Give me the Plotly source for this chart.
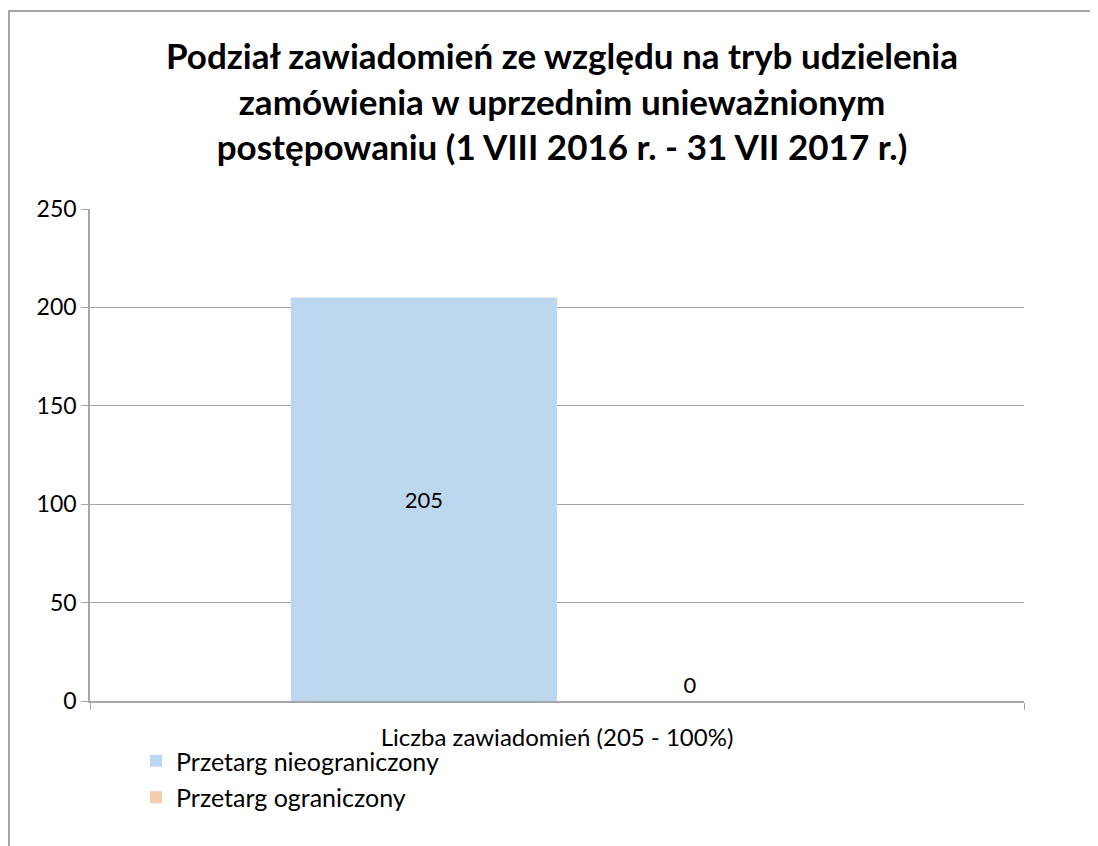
import plotly.graph_objects as go

categories = ["Liczba zawiadomień (205 - 100%)"]
series_names = ["Przetarg nieograniczony", "Przetarg ograniczony"]
values_nieogr = [205]
values_ogr = [0]
colors = ["#BDD7EE", "#F8CBAD"]
y_ticks = [0, 50, 100, 150, 200, 250]

title = ("Podział zawiadomień ze względu na tryb udzielenia<br>"
         "zamówienia w uprzednim unieważnionym<br>"
         "postępowaniu (1 VIII 2016 r. - 31 VII 2017 r.)")

FONT = "Lato"
W, H = 1098, 846
# page body has an 8px margin, so figure coords = screen coords - 8
L, R, T, B = 82, 82, 201, 153

fig = go.Figure()
fig.add_trace(go.Bar(
    x=categories, y=values_nieogr, name=series_names[0],
    marker=dict(color=colors[0], line=dict(width=0)),
    text=[str(v) for v in values_nieogr], textposition="inside",
    insidetextanchor="middle", textangle=0,
    textfont=dict(family=FONT, size=22, color="black"),
    legendgroup="a",
))
fig.add_trace(go.Bar(
    x=categories, y=values_ogr, name=series_names[1],
    marker=dict(color=colors[1], line=dict(width=0)),
    text=[str(v) for v in values_ogr], textposition="outside",
    textangle=0,
    textfont=dict(family=FONT, size=22, color="black"),
    cliponaxis=False,
    legendgroup="b",
))

pw = W - L - R
ph = H - T - B
fig.add_shape(type="rect", xref="paper", yref="paper",
              x0=(1 - L) / pw, x1=(W + 5 - L) / pw,
              y0=-(H + 5 - T - ph) / ph, y1=1 + (T - 3) / ph,
              line=dict(color="#A6A6A6", width=2), layer="below")

fig.update_layout(
    width=W, height=H,
    margin=dict(l=L, r=R, t=T, b=B, pad=0),
    paper_bgcolor="white", plot_bgcolor="white",
    barmode="group", bargap=0.43, bargroupgap=0,
    title=dict(text=title, x=(554 - L) / pw, xref="paper", xanchor="center",
               y=1 - 61 / H, yanchor="top",
               font=dict(family=FONT, size=35, color="black", weight="bold")),
    font=dict(family=FONT, size=22, color="black"),
    showlegend=True,
    legend=dict(x=(128 - L) / pw, xanchor="left", y=-(730 - T - ph) / ph, yanchor="top",
                orientation="v", font=dict(family=FONT, size=25, color="black"),
                tracegroupgap=1, bgcolor="rgba(0,0,0,0)"),
    xaxis=dict(showgrid=False, showline=True, linecolor="#A6A6A6", linewidth=1.5,
               ticks="outside", tickson="boundaries", ticklen=7, tickcolor="#A6A6A6",
               ticklabelstandoff=14,
               tickfont=dict(family=FONT, size=24, color="black")),
    yaxis=dict(range=[0, 250], tickvals=y_ticks, showgrid=True, gridcolor="#A6A6A6",
               gridwidth=1.2, showline=True, linecolor="#A6A6A6", linewidth=1.5,
               ticks="outside", ticklen=7, tickcolor="#A6A6A6", zeroline=False,
               tickfont=dict(family=FONT, size=23, color="black")),
)

fig.write_html("out.html")
